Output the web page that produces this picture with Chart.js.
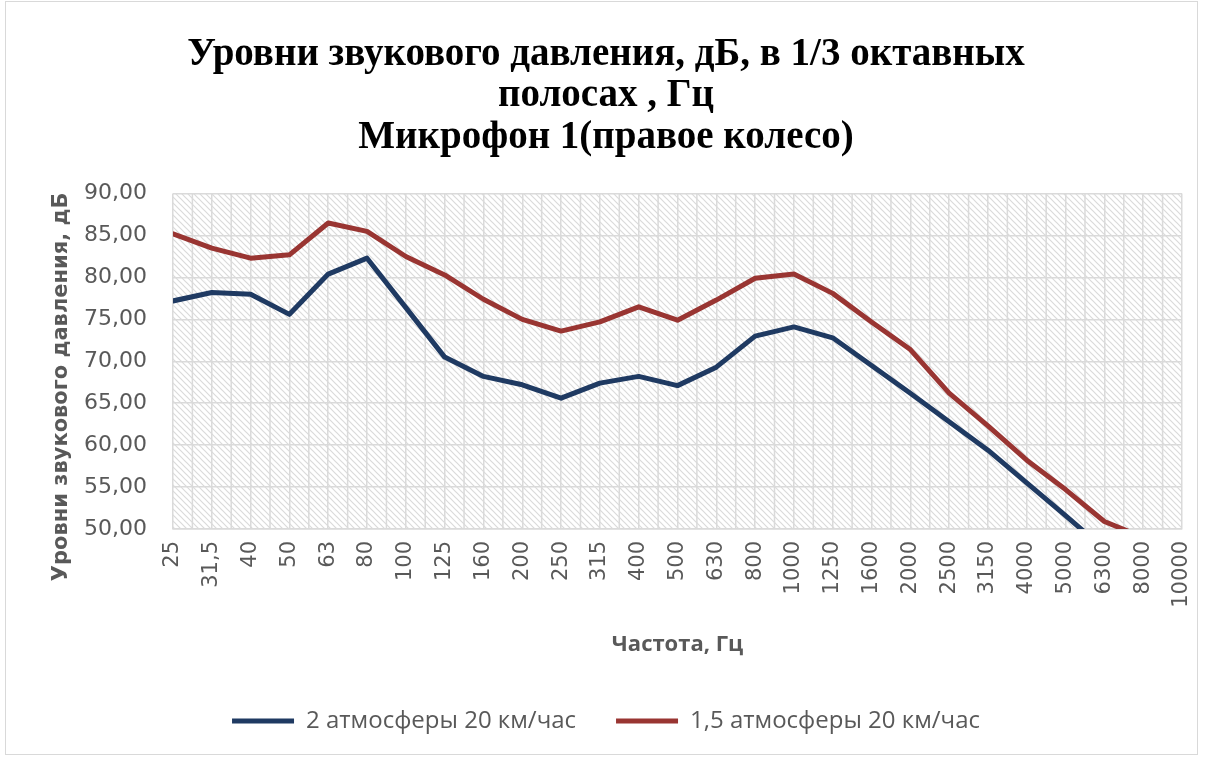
<!DOCTYPE html>
<html>
<head>
<meta charset="utf-8">
<script src="https://cdn.jsdelivr.net/npm/chart.js@4/dist/chart.umd.min.js"></script>
<style>
html, body { margin: 0; padding: 0; background: #fff; }
#wrap { width: 1210px; height: 760px; }
</style>
</head>
<body>
<div id="wrap"><canvas id="chart" width="1210" height="760"></canvas></div>
<script>
// frequency bands, Hz
var frequencies = ['25', '31,5', '40', '50', '63', '80', '100', '125', '160', '200', '250', '315', '400', '500',
    '630', '800', '1000', '1250', '1600', '2000', '2500', '3150', '4000', '5000', '6300', '8000', '10000'];
// sound pressure levels, dB
var atm2 = [77.2, 78.2, 78.0, 75.6, 80.4, 82.3, 76.4, 70.5, 68.2, 67.2, 65.6, 67.4, 68.2, 67.1,
    69.3, 73.0, 74.1, 72.8, 69.5, 66.2, 62.8, 59.4, 55.5, 51.6, 47.6, 44.0, 41.0];
var atm15 = [85.2, 83.5, 82.3, 82.7, 86.5, 85.5, 82.5, 80.3, 77.4, 75.0, 73.6, 74.7, 76.5, 74.9,
    77.3, 79.9, 80.4, 78.1, 74.7, 71.4, 66.2, 62.3, 58.2, 54.7, 50.9, 49.0, 47.5];
var yMin = 50, yMax = 90, yStep = 5;

var grey = '#595959';
var gridColor = '#dadada';

// diagonal hatch like the excel plot fill
function makeHatch() {
    var c = document.createElement('canvas');
    c.width = 6; c.height = 6;
    var g = c.getContext('2d');
    g.strokeStyle = '#dadada';
    g.lineWidth = 1.2;
    g.beginPath();
    g.moveTo(-1, -1); g.lineTo(7, 7);
    g.moveTo(-1, 5); g.lineTo(1, 7);
    g.moveTo(5, -1); g.lineTo(7, 1);
    g.stroke();
    return g.createPattern(c, 'repeat');
}

var plotBack = {
    id: 'plotBack',
    beforeDraw: function (chart) {
        var ctx = chart.ctx, a = chart.chartArea, x = chart.scales.x;
        ctx.save();
        ctx.fillStyle = makeHatch();
        ctx.fillRect(a.left, a.top, a.right - a.left, a.bottom - a.top);
        // extra lines between the categories
        ctx.strokeStyle = gridColor;
        ctx.lineWidth = 1.5;
        ctx.beginPath();
        for (var i = 0; i < frequencies.length - 1; i++) {
            var px = x.getPixelForValue(i + 0.5);
            ctx.moveTo(px, a.top);
            ctx.lineTo(px, a.bottom);
        }
        ctx.stroke();
        ctx.restore();
    },
    afterDraw: function (chart) {
        var ctx = chart.ctx;
        ctx.save();
        ctx.strokeStyle = '#d9d9d9';
        ctx.lineWidth = 1;
        ctx.strokeRect(5.5, 1.5, 1192, 753);
        ctx.restore();
    }
};

new Chart(document.getElementById('chart'), {
    type: 'line',
    data: {
        labels: frequencies,
        datasets: [{
            label: '2 атмосферы 20 км/час',
            data: atm2,
            borderColor: '#1f3a62',
            backgroundColor: '#1f3a62',
            borderWidth: 5,
            pointRadius: 0,
            borderJoinStyle: 'round',
            borderCapStyle: 'round',
            clip: 0
        }, {
            label: '1,5 атмосферы 20 км/час',
            data: atm15,
            borderColor: '#993532',
            backgroundColor: '#993532',
            borderWidth: 5,
            pointRadius: 0,
            borderJoinStyle: 'round',
            borderCapStyle: 'round',
            clip: 0
        }]
    },
    options: {
        responsive: false,
        animation: false,
        devicePixelRatio: 1,
        layout: { padding: { left: 30, right: 28, top: 0, bottom: 17 } },
        plugins: {
            title: {
                display: true,
                text: ['Уровни звукового давления, дБ, в 1/3 октавных', 'полосах , Гц', 'Микрофон 1(правое колесо)'],
                color: '#000',
                font: { family: 'Liberation Serif', size: 39, weight: 'bold', lineHeight: 1.065 },
                padding: { top: 34, bottom: 35 }
            },
            legend: {
                position: 'bottom',
                labels: {
                    usePointStyle: true,
                    pointStyle: 'line',
                    pointStyleWidth: 62,
                    padding: 40,
                    color: grey,
                    font: { family: 'Open Sans', size: 24 }
                }
            },
            tooltip: { enabled: false }
        },
        scales: {
            x: {
                offset: false,
                grid: { color: gridColor, lineWidth: 1.5, drawTicks: false },
                border: { color: gridColor, width: 1.5 },
                ticks: {
                    autoSkip: false, minRotation: 90, maxRotation: 90, padding: 12,
                    color: grey, font: { family: 'DejaVu Sans', size: 21 }
                },
                title: {
                    display: true, text: 'Частота, Гц', color: grey,
                    font: { family: 'Open Sans', size: 22, weight: 'bold', lineHeight: 1.2 },
                    padding: { top: 0, bottom: 11 }
                },
                afterFit: function (s) { s.height = 140; s.paddingRight = 0; }
            },
            y: {
                min: yMin, max: yMax,
                grid: { color: gridColor, lineWidth: 1.5, drawTicks: false },
                border: { display: false },
                ticks: {
                    stepSize: yStep, padding: 26, color: grey,
                    font: { family: 'DejaVu Sans', size: 22 },
                    callback: function (v) { return v.toFixed(2).replace('.', ','); }
                },
                title: {
                    display: true, text: 'Уровни звукового давления, дБ       ', color: grey,
                    font: { family: 'DejaVu Sans', size: 21, weight: 'bold', lineHeight: 1.2 },
                    padding: { top: 19, bottom: 0 }
                },
                afterFit: function (s) { s.width = 143; }
            }
        }
    },
    plugins: [plotBack]
});
</script>
</body>
</html>
